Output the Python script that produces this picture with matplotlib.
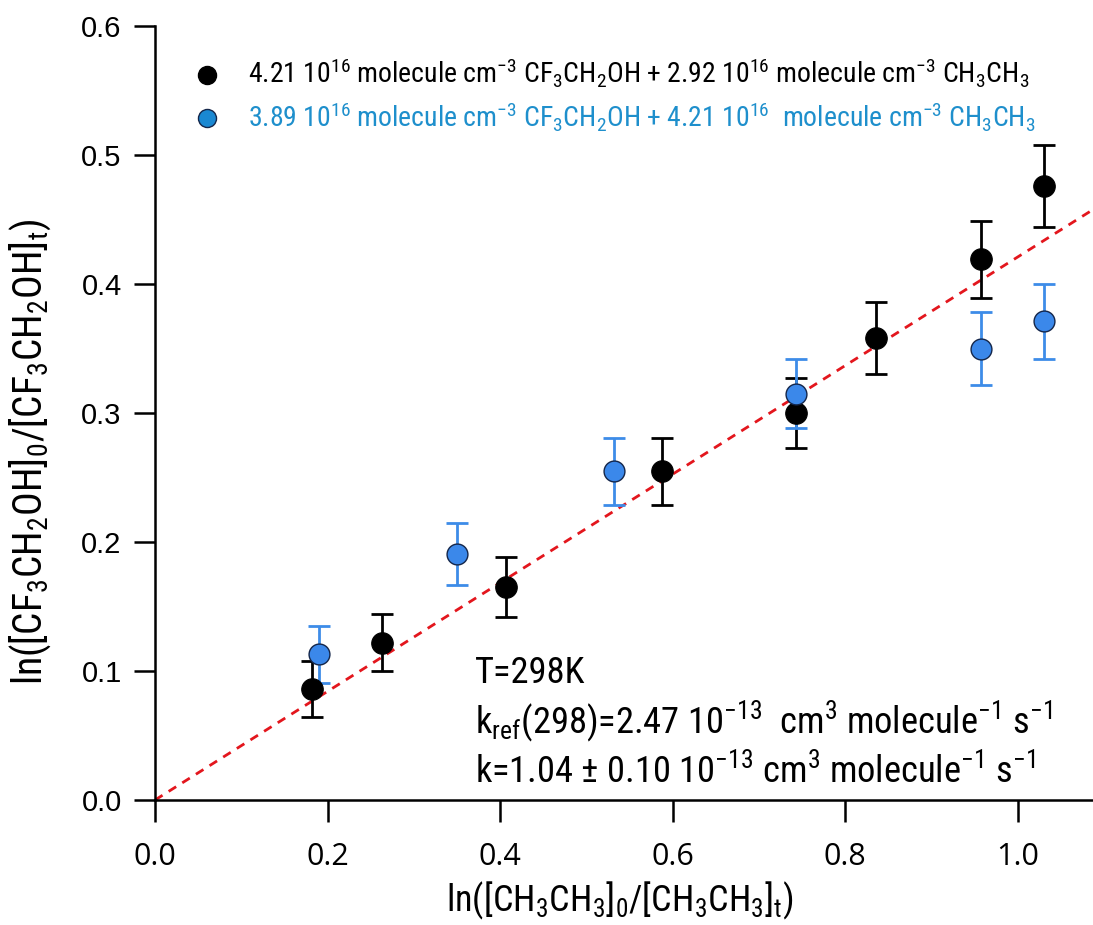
import matplotlib
matplotlib.use("Agg")
import matplotlib.pyplot as plt
import numpy as np

# Relative-rate data: CF3CH2OH vs. CH3CH3 reference
x_run1 = [0.182, 0.263, 0.407, 0.588, 0.743, 0.835, 0.957, 1.030]
y_run1 = [0.086, 0.122, 0.165, 0.255, 0.300, 0.358, 0.419, 0.476]
err_run1 = [0.022, 0.022, 0.023, 0.026, 0.027, 0.028, 0.030, 0.032]

x_run2 = [0.190, 0.350, 0.532, 0.743, 0.957, 1.030]
y_run2 = [0.113, 0.191, 0.255, 0.315, 0.350, 0.371]
err_run2 = [0.022, 0.024, 0.026, 0.027, 0.028, 0.029]

k_ref = 2.47   # 1e-13 cm3 molecule-1 s-1
k_fit = 1.04   # 1e-13 cm3 molecule-1 s-1
slope = k_fit / k_ref

x_ticks = [0.0, 0.2, 0.4, 0.6, 0.8, 1.0]
y_ticks = [0.0, 0.1, 0.2, 0.3, 0.4, 0.5, 0.6]


def m(s):
    """Wrap a sub/superscript so it stays in the text font."""
    return r"$\mathregular{" + s + "}$"


label_run1 = (f"4.21 10{m('^{16}')} molecule cm{m('^{-3}')} "
              f"CF{m('_3')}CH{m('_2')}OH + 2.92 10{m('^{16}')} "
              f"molecule cm{m('^{-3}')} CH{m('_3')}CH{m('_3')}")
label_run2 = (f"3.89 10{m('^{16}')} molecule cm{m('^{-3}')} "
              f"CF{m('_3')}CH{m('_2')}OH + 4.21 10{m('^{16}')}  "
              f"molecule cm{m('^{-3}')} CH{m('_3')}CH{m('_3')}")
note_T = "T=298K"
note_kref = (f"k{m('_{ref}')}(298)=2.47 10{m('^{-13}')}  cm{m('^3')} "
             f"molecule{m('^{-1}')} s{m('^{-1}')}")
note_k = (f"k=1.04 {m(r'\pm')} 0.10 10{m('^{-13}')} cm{m('^3')} "
          f"molecule{m('^{-1}')} s{m('^{-1}')}")
xlabel = f"ln([CH{m('_3')}CH{m('_3')}]{m('_0')}/[CH{m('_3')}CH{m('_3')}]{m('_t')})"
ylabel = (f"ln([CF{m('_3')}CH{m('_2')}OH]{m('_0')}/"
          f"[CF{m('_3')}CH{m('_2')}OH]{m('_t')})")

NARROW = ["Roboto Condensed", "DejaVu Sans"]
plt.rcParams["mathtext.fontset"] = "custom"
plt.rcParams["font.family"] = NARROW

fig = plt.figure(figsize=(10.93, 9.25), dpi=100)
ax = fig.add_axes([155 / 1093, 1 - 800 / 925, (1093 - 155) / 1093, (800 - 26) / 925])

xmax = 1.087
ax.set_xlim(0, xmax)
ax.set_ylim(0, 0.6)

# fitted line through the origin
xf = np.array([0.0, xmax])
ax.plot(xf, slope * xf, color="#e3161d", lw=2.0, ls=(0, (3.2, 2.6)), zorder=2)

# error bars
ax.errorbar(x_run1, y_run1, yerr=err_run1, fmt="none", ecolor="black",
            elinewidth=2.0, capsize=8, capthick=2.0, zorder=3)
ax.errorbar(x_run2, y_run2, yerr=err_run2, fmt="none", ecolor="#3d8ce8",
            elinewidth=2.0, capsize=8, capthick=2.0, zorder=3)

# markers
ax.plot(x_run1, y_run1, "o", ms=15.5, mfc="black", mec="black", mew=0.8,
        ls="none", zorder=4)
ax.plot(x_run2, y_run2, "o", ms=15, mfc="#3b88ea", mec="#14264a", mew=1.0,
        ls="none", zorder=5)

# legend rows
ax.plot([0.0554], [0.9367], "o", ms=13, mfc="black", mec="black",
        transform=ax.transAxes, clip_on=False, zorder=6)
ax.plot([0.0554], [0.8811], "o", ms=13, mfc="#1a88d2", mec="#14264a", mew=1.0,
        transform=ax.transAxes, clip_on=False, zorder=6)
ax.text(0.099, 0.9264, label_run1, transform=ax.transAxes, fontsize=20,
        color="black", va="baseline", ha="left")
ax.text(0.099, 0.8708, label_run2, transform=ax.transAxes, fontsize=20,
        color="#1e8fcc", va="baseline", ha="left")

# annotations
ann_kw = dict(transform=ax.transAxes, fontsize=26.3, color="black",
              va="baseline", ha="left")
ax.text(0.341, 0.1518, note_T, **ann_kw)
ax.text(0.341, 0.0872, note_kref, **ann_kw)
ax.text(0.341, 0.0226, note_k, **ann_kw)

# axes styling
for side in ("top", "right"):
    ax.spines[side].set_visible(False)
for side in ("left", "bottom"):
    ax.spines[side].set_linewidth(1.8)

ax.set_xticks(x_ticks)
ax.set_yticks(y_ticks)
ax.set_xticklabels([f"{v:.1f}" for v in x_ticks], family=["Open Sans", "DejaVu Sans"],
                   fontsize=22)
ax.set_yticklabels([f"{v:.1f}" for v in y_ticks], family=["Liberation Sans", "DejaVu Sans"],
                   fontsize=21)
ax.tick_params(axis="x", direction="out", length=16, width=1.8, pad=14)
ax.tick_params(axis="y", direction="out", length=15, width=1.8, pad=9)

ax.set_xlabel(xlabel, fontsize=26)
ax.xaxis.set_label_coords(0.4957, -0.103)
ax.set_ylabel(ylabel, fontsize=28.5, va="center")
ax.yaxis.set_label_coords(-0.1333, 0.4496)

fig.savefig("out.png", dpi=100)
